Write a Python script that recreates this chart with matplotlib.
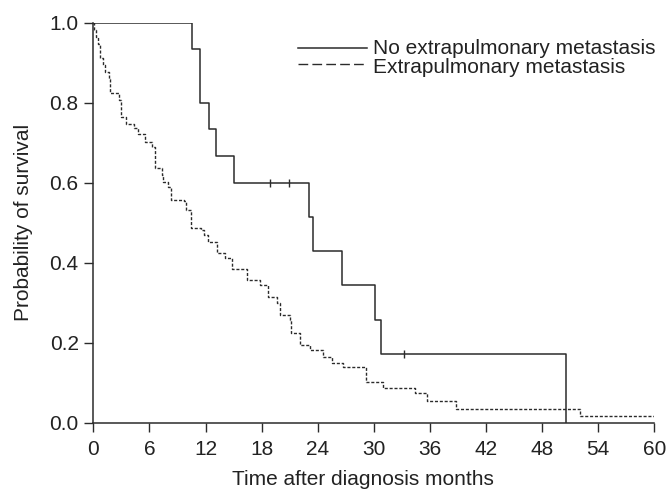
import matplotlib
matplotlib.use("Agg")
import matplotlib.pyplot as plt
from matplotlib import rcParams

rcParams['font.family'] = ['Liberation Sans', 'DejaVu Sans']

# --- data ---
# no extrapulmonary metastasis (solid)
no_meta_t = [0, 10.6, 11.45, 12.4, 13.1, 15.0, 23.1, 23.5, 26.6, 30.1, 30.8, 50.6]
no_meta_s = [1.0, 0.933, 0.800, 0.733, 0.667, 0.600, 0.514, 0.429, 0.343, 0.257, 0.171, 0.0]
no_meta_cens_t = [18.9, 20.9, 33.2]
no_meta_cens_s = [0.600, 0.600, 0.171]

# extrapulmonary metastasis (dashed)
meta_t = [0, 0.1, 0.3, 0.5, 0.7, 1.0, 1.2, 1.7, 1.8, 2.8, 3.0, 3.5, 4.4, 4.8, 5.5,
          6.3, 6.6, 7.3, 7.5, 8.0, 8.3, 9.7, 9.9, 10.4, 10.5, 11.5, 11.8, 12.3,
          13.2, 14.1, 14.8, 16.4, 17.8, 18.7, 19.6, 20.0, 21.0, 21.1, 22.1, 23.2,
          24.6, 25.5, 26.7, 29.2, 31.0, 34.4, 35.7, 38.8, 52.1, 60]
meta_s = [1.0, 0.982, 0.965, 0.947, 0.912, 0.895, 0.877, 0.860, 0.825, 0.807, 0.763,
          0.746, 0.737, 0.721, 0.702, 0.690, 0.636, 0.620, 0.602, 0.590, 0.557,
          0.553, 0.532, 0.524, 0.486, 0.482, 0.469, 0.452, 0.425, 0.411, 0.384,
          0.357, 0.344, 0.315, 0.299, 0.269, 0.257, 0.224, 0.194, 0.182, 0.165,
          0.149, 0.139, 0.103, 0.088, 0.074, 0.054, 0.034, 0.017, 0.017]

x_ticks = [0, 6, 12, 18, 24, 30, 36, 42, 48, 54, 60]
y_ticks = [0.0, 0.2, 0.4, 0.6, 0.8, 1.0]

line_col = '#2b2b2b'
txt_col = '#222222'
fs = 15

fig = plt.figure(figsize=(6.68, 4.91), dpi=100)
ax = fig.add_axes([0.1397, 0.1391, 0.8398, 0.8147])

ax.step(no_meta_t, no_meta_s, where='post', color=line_col, lw=1.1)
ax.plot(no_meta_cens_t, no_meta_cens_s, ls='none', marker='|', ms=6,
        mew=1.0, color=line_col)
ax.step(meta_t, meta_s, where='post', color=line_col, lw=1.0,
        ls=(0, (2.2, 1.3)))

ax.set_xlim(0, 60)
ax.set_ylim(0, 1.0)
ax.set_xticks(x_ticks)
ax.set_yticks(y_ticks)
ax.set_yticklabels([f"{v:.1f}" for v in y_ticks])
ax.tick_params(direction='out', length=6.5, width=1.0, color=line_col,
               labelsize=fs, labelcolor=txt_col)
ax.tick_params(axis='x', pad=6)
ax.tick_params(axis='y', pad=4)
for s in ['top', 'right']:
    ax.spines[s].set_visible(False)
for s in ['left', 'bottom']:
    ax.spines[s].set_color(line_col)
    ax.spines[s].set_linewidth(1.1)

ax.set_xlabel('Time after diagnosis months', fontsize=fs, color=txt_col)
ax.xaxis.set_label_coords(0.481, -0.118)
ax.set_ylabel('Probability of survival', fontsize=fs, color=txt_col, labelpad=12)

# hand-drawn legend, top right
tr = ax.transAxes
ax.plot([0.3655, 0.4885], [0.9365, 0.9365], transform=tr, color=line_col, lw=1.1)
ax.plot([0.3655, 0.4885], [0.8970, 0.8970], transform=tr, color=line_col, lw=1.0,
        ls=(0, (7, 3)))
ax.text(0.4985, 0.9365, 'No extrapulmonary metastasis', transform=tr,
        fontsize=fs, color=txt_col, va='center', ha='left')
ax.text(0.4985, 0.8870, 'Extrapulmonary metastasis', transform=tr,
        fontsize=fs, color=txt_col, va='center', ha='left')

fig.savefig('out.png', dpi=100)
